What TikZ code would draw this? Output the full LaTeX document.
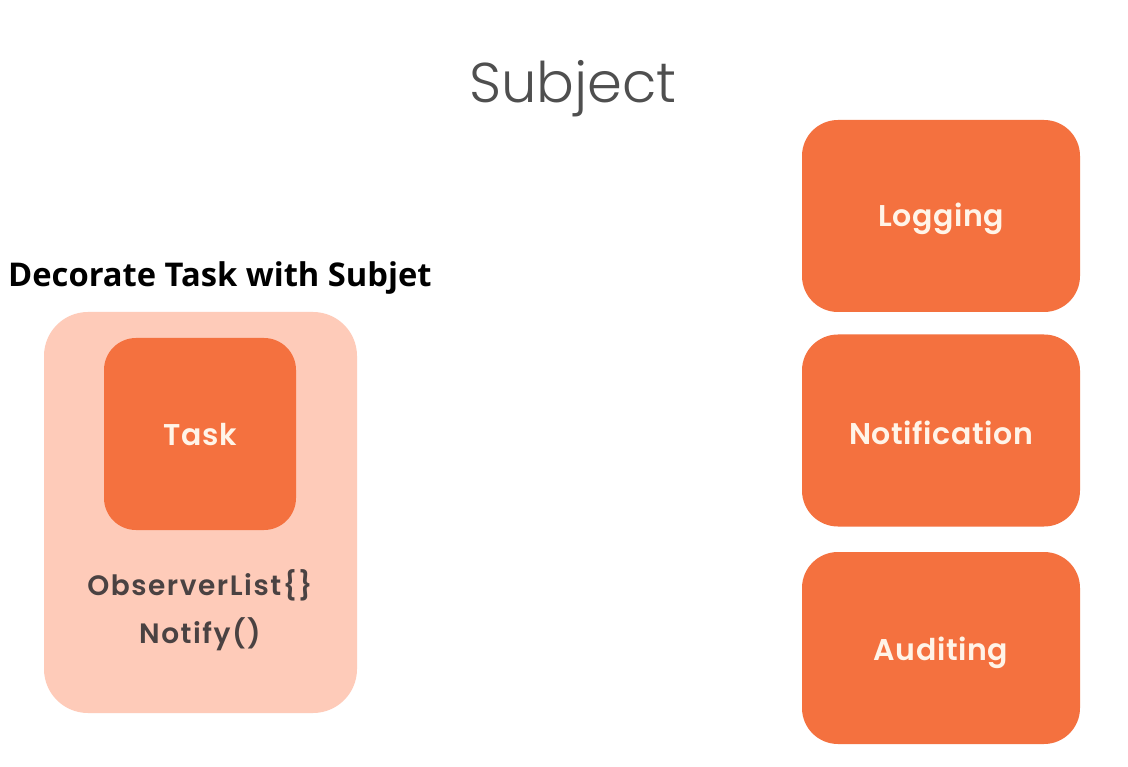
\documentclass[tikz,border=0pt]{standalone}
\usepackage{fontspec}
\newfontfamily\poplight{Poppins Light}
\newfontfamily\popbox{Poppins SemiBold}[LetterSpace=2]
\newfontfamily\poplist{Poppins SemiBold}[LetterSpace=5.5]
\newfontfamily\headfont{Open Sans}
\definecolor{orangebox}{HTML}{F4713F}
\definecolor{peach}{HTML}{FECBB9}
\definecolor{cream}{HTML}{FFF4E8}
\definecolor{darktext}{HTML}{4A4242}
\definecolor{titlegray}{HTML}{4F4F4F}
\begin{document}
\begin{tikzpicture}[x=1pt,y=-1pt,
  obox/.style={fill=orangebox, draw=none, rounded corners=36pt, inner sep=0pt},
  otext/.style={font=\popbox\fontsize{30}{34}\selectfont, text=cream, inner sep=0pt, anchor=base},
  pbox/.style={fill=peach, draw=none, rounded corners=44pt, inner sep=0pt},
  ltext/.style={font=\poplist\fontsize{28}{32}\selectfont, text=darktext, inner sep=0pt, anchor=base}]
\useasboundingbox (0,0) rectangle (1128,767);
\fill[white] (0,0) rectangle (1128,767);
\node[font=\poplight\fontsize{56}{66}\selectfont, text=titlegray, inner sep=0pt, anchor=base] (title) at (573,103) {Subject};
\node[font=\headfont\bfseries\fontsize{32.7}{36}\selectfont, text=black, anchor=base west, inner sep=0pt] (head) at (8,287) {Decorate Task with Subjet};
\node[pbox, minimum width=313pt, minimum height=401pt] (subj) at (200.5,512.5) {};
\node[obox, minimum width=192pt, minimum height=192pt, rounded corners=32pt] (task) at (200,434) {};
\node[otext] (tasklbl) at (200,446) {Task};
\node[ltext] (olist) at (200,595) {ObserverList\{\}};
\node[ltext] (notify) at (200,643) {Notify()};
\node[obox, minimum width=278pt, minimum height=192pt] (log) at (941,216) {};
\node[otext] (loglbl) at (941,227) {Logging};
\node[obox, minimum width=278pt, minimum height=192pt] (notif) at (941,430.5) {};
\node[otext] (notiflbl) at (941,445) {Notification};
\node[obox, minimum width=278pt, minimum height=192pt] (audit) at (941,648) {};
\node[otext] (auditlbl) at (941,660) {Auditing};
\end{tikzpicture}
\end{document}
